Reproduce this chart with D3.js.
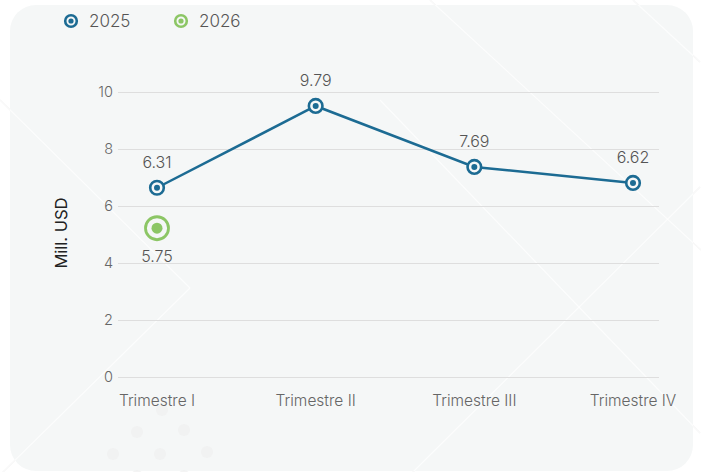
<html>

<head>
    <script src="https://d3js.org/d3.v7.min.js"></script>
    <title>Mill. USD por trimestre</title>
    <style>
        body { margin: 0; background: #ffffff; }
        text { font-family: Inter, "Open Sans", sans-serif; font-weight: 300; }
    </style>
</head>

<body>
    <div id="vis"></div>
</body>

<script>

    // data
    var quarters = ["Trimestre I", "Trimestre II", "Trimestre III", "Trimestre IV"];
    var values2025 = [6.64, 9.51, 7.37, 6.81];       // plotted positions
    var labels2025 = ["6.31", "9.79", "7.69", "6.62"]; // printed labels
    var values2026 = [5.22];
    var labels2026 = ["5.75"];
    var yTicks = [0, 2, 4, 6, 8, 10];

    var blue = "#1c6b93", green = "#8cc665";

    var W = 701, H = 472;

    var svg = d3.select("#vis")
        .append("svg")
        .attr("width", W)
        .attr("height", H);

    // faint decoration behind the card
    var deco = [[0, 100, 190, 288], [190, 288, 0, 475], [380, 100, 700, 433],
                [700, 187, 413, 472], [633, 0, 700, 62], [430, 0, 701, 250]];
    svg.selectAll(".deco")
        .data(deco)
        .enter()
        .append("line")
        .attr("x1", function (d) { return d[0]; })
        .attr("y1", function (d) { return d[1]; })
        .attr("x2", function (d) { return d[2]; })
        .attr("y2", function (d) { return d[3]; })
        .attr("stroke", "#ececec")
        .attr("stroke-width", 1.2);

    // card
    svg.append("rect")
        .attr("x", 10)
        .attr("y", 5)
        .attr("width", 683)
        .attr("height", 466)
        .attr("rx", 26)
        .attr("fill", "#f5f7f7");

    svg.selectAll(".deco2")
        .data(deco)
        .enter()
        .append("line")
        .attr("x1", function (d) { return d[0]; })
        .attr("y1", function (d) { return d[1]; })
        .attr("x2", function (d) { return d[2]; })
        .attr("y2", function (d) { return d[3]; })
        .attr("stroke", "#ffffff")
        .attr("stroke-opacity", 0.7)
        .attr("stroke-width", 1.2);

    // dot pattern near bottom left
    var dots = [[162, 410], [137, 432], [184, 430], [113, 454], [160, 454], [207, 452], [137, 476], [184, 476]];
    svg.selectAll(".dot")
        .data(dots)
        .enter()
        .append("circle")
        .attr("cx", function (d) { return d[0]; })
        .attr("cy", function (d) { return d[1]; })
        .attr("r", 6)
        .attr("fill", "#efefef")
        .attr("opacity", 0.7);

    // scales
    var x = d3.scalePoint()
        .domain(quarters)
        .range([157, 633]);

    var y = d3.scaleLinear()
        .domain([0, 10])
        .range([377, 92]);

    // gridlines
    svg.append("g")
        .attr("transform", "translate(118,0)")
        .call(d3.axisLeft(y).tickValues(yTicks).tickSize(-541).tickFormat(""))
        .call(function (g) { g.select(".domain").remove(); })
        .selectAll("line")
        .attr("stroke", "#dedede");

    // y tick labels
    svg.append("g")
        .selectAll("text")
        .data(yTicks)
        .enter()
        .append("text")
        .attr("x", 113)
        .attr("y", function (d) { return y(d); })
        .attr("dy", "0.35em")
        .attr("text-anchor", "end")
        .style("font-size", "14.5px")
        .style("fill", "#666")
        .text(function (d) { return d; });

    // x labels
    svg.append("g")
        .selectAll("text")
        .data(quarters)
        .enter()
        .append("text")
        .attr("x", function (d) { return x(d); })
        .attr("y", 406)
        .attr("text-anchor", "middle")
        .style("font-size", "15.5px")
        .style("fill", "#666")
        .text(function (d) { return d; });

    // y axis title
    svg.append("text")
        .attr("transform", "translate(67,233) rotate(-90)")
        .attr("text-anchor", "middle")
        .style("font-size", "16.5px")
        .style("font-weight", 400)
        .style("fill", "#222")
        .text("Mill. USD");

    // 2025 line
    var line = d3.line()
        .x(function (d, i) { return x(quarters[i]); })
        .y(function (d) { return y(d); });

    svg.append("path")
        .datum(values2025)
        .attr("d", line)
        .attr("fill", "none")
        .attr("stroke", blue)
        .attr("stroke-width", 2.5);

    function marker(g, cx, cy, col, r, sw, rin) {
        g.append("circle")
            .attr("cx", cx).attr("cy", cy).attr("r", r)
            .attr("fill", "#f5f7f7")
            .attr("stroke", col)
            .attr("stroke-width", sw);
        g.append("circle")
            .attr("cx", cx).attr("cy", cy).attr("r", rin)
            .attr("fill", col);
    }

    var pts = svg.append("g");
    values2025.forEach(function (v, i) {
        marker(pts, x(quarters[i]), y(v), blue, 6.8, 2.6, 3);
    });
    values2026.forEach(function (v, i) {
        marker(pts, x(quarters[i]), y(v), green, 11.5, 2.8, 5.5);
    });

    // value labels
    svg.append("g")
        .selectAll("text")
        .data(values2025)
        .enter()
        .append("text")
        .attr("x", function (d, i) { return x(quarters[i]); })
        .attr("y", function (d) { return y(d) - 20; })
        .attr("text-anchor", "middle")
        .style("font-size", "16px")
        .style("fill", "#555")
        .text(function (d, i) { return labels2025[i]; });

    svg.append("g")
        .selectAll("text")
        .data(values2026)
        .enter()
        .append("text")
        .attr("x", function (d, i) { return x(quarters[i]); })
        .attr("y", function (d) { return y(d) + 34; })
        .attr("text-anchor", "middle")
        .style("font-size", "16px")
        .style("fill", "#555")
        .text(function (d, i) { return labels2026[i]; });

    // legend
    var legend = [{ name: "2025", col: blue, x: 71 }, { name: "2026", col: green, x: 181 }];
    legend.forEach(function (l) {
        marker(svg, l.x, 21, l.col, 5.8, 2.6, 2.6);
        svg.append("text")
            .attr("x", l.x + 18)
            .attr("y", 27)
            .style("font-size", "17px")
            .style("fill", "#555")
            .text(l.name);
    });

</script>

</html>
